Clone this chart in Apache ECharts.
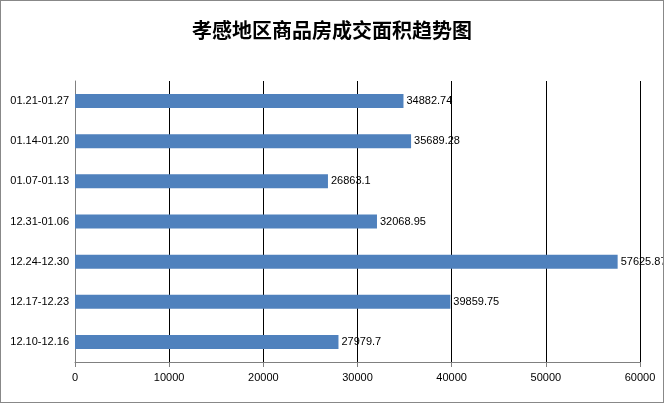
<!DOCTYPE html>
<html><head><meta charset="utf-8">
<script src="https://cdn.jsdelivr.net/npm/echarts@6/dist/echarts.min.js"></script>
<style>html,body{margin:0;padding:0;background:#fff}#chart{width:662px;height:401px;border:1px solid #888}</style>
</head><body>
<div id="chart"></div>
<script>
const categories = ['12.10-12.16', '12.17-12.23', '12.24-12.30', '12.31-01.06', '01.07-01.13', '01.14-01.20', '01.21-01.27']
const values = [27979.7, 39859.75, 57625.87, 32068.95, 26863.1, 35689.28, 34882.74]
const labels = ['27979.7', '39859.75', '57625.87', '32068.95', '26863.1', '35689.28', '34882.74']

const chart = echarts.init(document.getElementById('chart'))
chart.setOption({
  animation: false,
  title: {
    text: '孝感地区商品房成交面积趋势图',
    left: 'center',
    top: 14,
    textStyle: {fontFamily: 'Noto Sans CJK SC', fontSize: 20, fontWeight: 'bold', color: '#000'}
  },
  grid: {left: 74, right: 23, top: 80, bottom: 40},
  xAxis: {
    type: 'value', min: 0, max: 60000, interval: 10000,
    axisLine: {show: true, lineStyle: {color: '#808080'}},
    axisTick: {show: true, lineStyle: {color: '#808080'}},
    axisLabel: {color: '#000', fontSize: 11, margin: 10, formatter: v => String(v)},
    splitLine: {lineStyle: {color: '#000', width: 1}}
  },
  yAxis: {
    type: 'category', data: categories,
    axisLine: {lineStyle: {color: '#808080'}},
    axisTick: {show: false},
    axisLabel: {color: '#000', fontSize: 11, margin: 6}
  },
  series: [{
    type: 'bar', data: values, barWidth: 14,
    itemStyle: {color: '#4F81BD'},
    label: {
      show: true, position: 'right', color: '#000', fontSize: 11, distance: 3,
      formatter: p => labels[p.dataIndex]
    }
  }]
})
</script>
</body></html>
